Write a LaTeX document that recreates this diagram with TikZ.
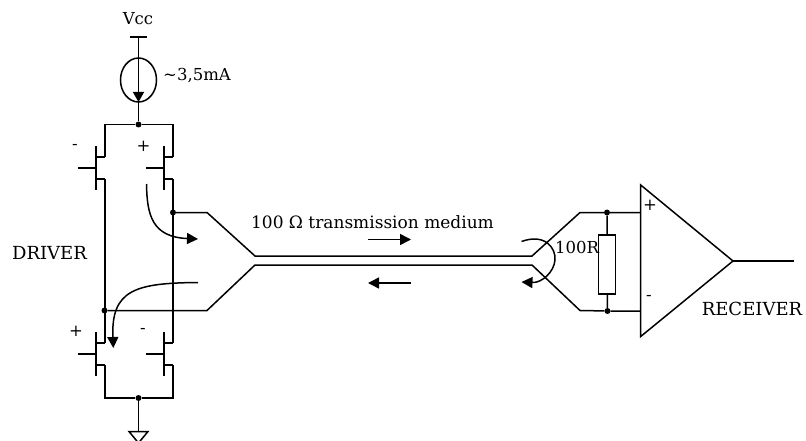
\documentclass[tikz,border=0pt]{standalone}
\usepackage{amsmath}
\usepackage{fontspec}
\setmainfont{DejaVu Serif}
\usetikzlibrary{arrows.meta}
\tikzset{
  wire/.style={line width=1.5pt},
  flow/.style={line width=1.5pt,-{Triangle[length=11pt,width=11pt]}},
  junction/.style={circle,fill=black,inner sep=0pt,minimum size=6pt},
  lbl/.style={inner sep=0pt,font=\fontsize{16.5}{20}\selectfont},
  caplbl/.style={inner sep=0pt,font=\fontsize{18}{20}\selectfont}
}
\begin{document}
\begin{tikzpicture}[x=1pt,y=-1pt]
    \useasboundingbox (0,0) rectangle (806,441);

    % Supply and current source
    \node[lbl] (vcc) at (138,19) {Vcc};
    \node[lbl,anchor=west] (isrc) at (163,76) {\textasciitilde 3,5mA};
    \draw[wire] (130,37) -- (147,37);
    \draw[wire] (138.5,80) ellipse (18 and 22);
    \node[junction] (top) at (138.5,124.5) {};
    \draw[wire] (138.5,37) -- (top);
    \draw[wire,-{Triangle[length=10pt,width=11pt]}] (138.5,37) -- (138.5,102);

    % Transistors, gate to the left
    \foreach \xc/\yc/\name/\gw in {96/168/ul/1.5,164/168/ur/1.5,96/354/ll/2.5,164/354/lr/2.5}{
        \draw[wire] (\xc,\yc-22) -- (\xc,\yc+22);
        \draw[line width=\gw pt] (\xc-18,\yc) coordinate (\name g) -- (\xc,\yc);
        \coordinate (\name a) at (\xc+9,\yc-11);
        \coordinate (\name b) at (\xc+9,\yc+11);
        \draw[wire] (\xc,\yc-11) -- (\name a);
        \draw[wire] (\xc,\yc+11) -- (\name b);
    }
    \draw[wire] (ula) -- (105,124.5) -- (top) -- (173,124.5) -- (ura);
    \draw[wire] (ulb) -- (lla);
    \draw[wire] (urb) -- (lra);
    \node[junction] (bot) at (138.5,398) {};
    \draw[wire] (llb) -- (105,398) -- (bot) -- (173,398) -- (lrb);
    \coordinate (gnd) at (138.5,431);
    \draw[wire] (bot) -- (gnd);
    \draw[wire] (129,431.5) -- (148,431.5) -- (138.5,443) -- cycle;

    % Line from driver to receiver
    \node[junction] (outp) at (173,212.5) {};
    \node[junction] (outn) at (104.5,310.5) {};
    \node[junction] (rtop) at (607,212.5) {};
    \node[junction] (rbot) at (607.5,311) {};
    \draw[wire] (outp) -- (207,212.5) -- (255,256) -- (532,256) -- (580,212.5) -- (rtop) -- (640.7,212.5);
    \draw[wire] (outn) -- (207,310.5) -- (255,265) -- (532,265) -- (580,310.5) -- (rbot) -- (640.7,311);

    % Resistor
    \node[wire,draw,minimum width=17pt,minimum height=59pt,inner sep=0pt] (res) at (607.2,264.5) {};
    \draw[wire] (rtop) -- (res);
    \draw[wire] (res) -- (rbot);

    % Receiver
    \draw[wire] (640.7,185) -- (733,261) coordinate (out) -- (640.7,336.5) -- cycle;
    \draw[wire] (out) -- (794,261);

    % Current paths
    \draw[flow] (146.5,184) .. controls (147,215) and (152,237) .. (198,239);
    \draw[flow] (198,282.5) .. controls (135,283) and (111,290) .. (113.3,348);
    \draw[flow] (368,239.5) -- (411,239.5);
    \draw[flow] (411,283) -- (368,283);
    \draw[flow] (521.5,241.5) .. controls (545,233) and (556,248) .. (555,260) .. controls (554,272) and (542,283) .. (521.5,282);

    % Labels
    \node[lbl] (minusa) at (75,147) {-};
    \node[lbl] (plusa) at (143.5,146) {+};
    \node[lbl] (plusb) at (76,331.5) {+};
    \node[lbl] (minusb) at (143,331) {-};
    \node[caplbl] (drv) at (49.5,253) {DRIVER};
    \node[lbl,font=\fontsize{17}{20}\selectfont] (medium) at (372.5,222) {100 Ω transmission medium};
    \node[lbl] (rval) at (577,247) {100R};
    \node[lbl] (pluss) at (650,205) {+};
    \node[lbl] (minuss) at (649,298) {-};
    \node[caplbl] (rcv) at (752,309) {RECEIVER};
\end{tikzpicture}
\end{document}
